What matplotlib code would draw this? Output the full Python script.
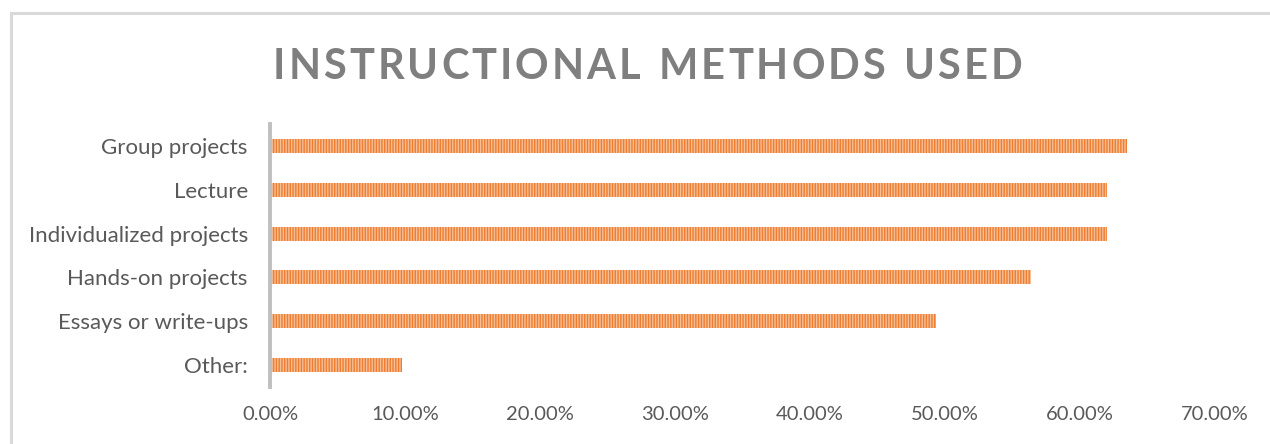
import matplotlib
matplotlib.use("Agg")
import matplotlib.pyplot as plt
from matplotlib.lines import Line2D

categories = ["Group projects", "Lecture", "Individualized projects",
              "Hands-on projects", "Essays or write-ups", "Other:"]
values = [0.635, 0.620, 0.620, 0.564, 0.493, 0.098]
xticks = [0.0, 0.1, 0.2, 0.3, 0.4, 0.5, 0.6, 0.7]
title = "INSTRUCTIONAL METHODS USED"

W, H, DPI = 1270, 444, 100
plt.rcParams["font.family"] = ["Lato", "DejaVu Sans"]
plt.rcParams["hatch.linewidth"] = 1.0

fig = plt.figure(figsize=(W / DPI, H / DPI), dpi=DPI)
fig.patch.set_facecolor("white")

# chart frame (left and top edges)
fig.add_artist(Line2D([11 / W, 11 / W], [0, 1 - 13 / H], transform=fig.transFigure,
                      color="#D9D9D9", lw=2.2))
fig.add_artist(Line2D([11 / W, 1], [1 - 13 / H, 1 - 13 / H], transform=fig.transFigure,
                      color="#D9D9D9", lw=2.2))

ax_left, ax_right = 270 / W, 1215 / W
ax_top, ax_bot = 1 - 124 / H, 1 - 387 / H
ax = fig.add_axes([ax_left, ax_bot, ax_right - ax_left, ax_top - ax_bot])

y = list(range(len(categories)))
ax.barh(y, values, height=0.32, facecolor="#F6BE95", edgecolor="#ED7D31",
        linewidth=0, hatch="||||||")
ax.set_xlim(0, 0.7)
ax.set_ylim(len(categories) - 0.5, -0.5)
ax.set_yticks(y)
ax.set_yticklabels(categories)
ax.set_xticks(xticks)
ax.set_xticklabels([f"{v * 100:.2f}%" for v in xticks])
for s in ["top", "right", "bottom"]:
    ax.spines[s].set_visible(False)
ax.spines["left"].set_color("#BFBFBF")
ax.spines["left"].set_linewidth(2.8)
ax.tick_params(axis="both", length=0, labelcolor="#595959")
ax.tick_params(axis="y", pad=16, labelsize=16)
ax.tick_params(axis="x", pad=14, labelsize=14.5)

# letter-spaced title
renderer = fig.canvas.get_renderer()
fs = 30
parts = []
for ch in title:
    t = fig.text(0, 0, ch if ch != " " else "I", fontsize=fs, fontweight="bold",
                 color="#7F7F7F")
    w = t.get_window_extent(renderer).width
    if ch == " ":
        t.remove()
        t = None
    parts.append((t, w))
target_left, target_right = 273, 1022
total = sum(w for _, w in parts)
gap = (target_right - target_left - total) / (len(parts) - 1)
x = target_left
base_y = 1 - 79 / H
for t, w in parts:
    if t is not None:
        t.set_position((x / W, base_y))
        t.set_va("baseline")
        t.set_ha("left")
    x += w + gap

fig.savefig("out.png", dpi=DPI)
